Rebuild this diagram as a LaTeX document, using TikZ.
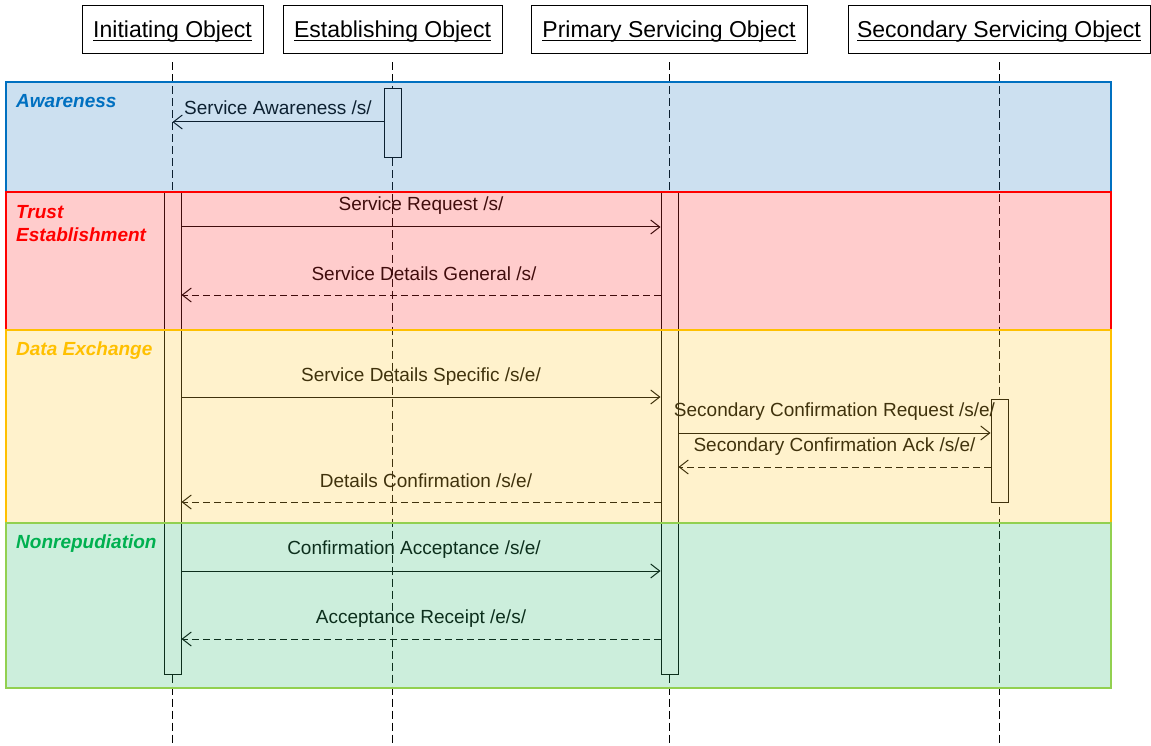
\documentclass[tikz,border=0pt]{standalone}
\usepackage{fontspec}
\setmainfont{Liberation Sans}
\usetikzlibrary{arrows.meta}
\definecolor{bluefill}{RGB}{51,131,195}
\definecolor{blueline}{RGB}{0,112,192}
\definecolor{redfill}{RGB}{255,51,51}
\definecolor{redline}{RGB}{255,0,0}
\definecolor{yelfill}{RGB}{255,203,51}
\definecolor{yelline}{RGB}{255,192,0}
\definecolor{grnfill}{RGB}{51,187,115}
\definecolor{grnline}{RGB}{146,208,80}
\definecolor{grntext}{RGB}{0,176,80}
\newcommand\hul[1]{\setbox0\hbox{#1}\rlap{\rule[-3.5pt]{\wd0}{1pt}}\box0}
\begin{document}
\begin{tikzpicture}[x=1pt,y=-1pt,
  hdr/.style={draw, line width=1pt, minimum height=48pt, inner sep=0pt, text height=15pt, text depth=0pt, font=\fontsize{23}{27}\selectfont},
  act/.style={draw, fill=white, line width=1pt, minimum width=17pt, inner sep=0pt},
  life/.style={line width=1pt, dash pattern=on 8pt off 4pt},
  msg/.style={line width=1pt, -{Straight Barb[length=9pt,width=14pt]}},
  reply/.style={msg, dash pattern=on 7pt off 4pt},
  lbl/.style={font=\fontsize{19}{23}\selectfont, inner sep=0pt},
  band/.style={fill opacity=0.25, draw opacity=1, line width=1.3pt},
  bandlbl/.style={font=\fontsize{19}{23}\selectfont\bfseries\itshape, anchor=west, inner sep=0pt, align=left},
]
\useasboundingbox (0,0) rectangle (1151,746);

% headers
\node[hdr, minimum width=181pt] (init) at (172.5,30) {\hul{Initiating Object}};
\node[hdr, minimum width=219pt] (est) at (392.5,30) {\hul{Establishing Object}};
\node[hdr, minimum width=276pt] (prim) at (669,30) {\hul{Primary Servicing Object}};
\node[hdr, minimum width=302pt] (sec) at (999,30) {\hul{Secondary Servicing Object}};

\coordinate (bot) at (0,746);
% lifelines
\draw[life] ([yshift=-8pt]init.south) -- (init.south |- bot);
\draw[life] ([yshift=-8pt]est.south) -- (est.south |- bot);
\draw[life] ([yshift=-8pt]prim.south) -- (prim.south |- bot);
\draw[life] ([yshift=-8pt]sec.south) -- (sec.south |- bot);

% activation bars
\node[act, minimum height=69pt] (aE) at (392.5,123.5) {};
\node[act, minimum height=481pt] (aI) at (172.5,433.5) {};
\node[act, minimum height=481pt] (aP) at (669.5,433.5) {};
\node[act, minimum height=103pt] (aS) at (999.5,450.5) {};

% message rows
\coordinate (y1) at (0,122);
\coordinate (y2) at (0,227);
\coordinate (y3) at (0,295);
\coordinate (y4) at (0,397);
\coordinate (y5) at (0,433);
\coordinate (y6) at (0,467);
\coordinate (y7) at (0,502);
\coordinate (y8) at (0,571);
\coordinate (y9) at (0,639);

\draw[msg] (aE.west |- y1) -- (init.south |- y1)
  node[lbl, midway, yshift=14pt] {Service Awareness /s/};
\draw[msg] (aI.east |- y2) -- (aP.west |- y2)
  node[lbl, midway, yshift=21pt] {Service Request /s/};
\draw[reply] (aP.west |- y3) -- (aI.east |- y3)
  node[lbl, midway, xshift=3pt, yshift=21pt] {Service Details General /s/};
\draw[msg] (aI.east |- y4) -- (aP.west |- y4)
  node[lbl, midway, yshift=20pt] {Service Details Specific /s/e/};
\draw[msg] (aP.east |- y5) -- (aS.west |- y5)
  node[lbl, midway, yshift=21pt] {Secondary Confirmation Request /s/e/};
\draw[reply] (aS.west |- y6) -- (aP.east |- y6)
  node[lbl, midway, yshift=20pt] {Secondary Confirmation Ack /s/e/};
\draw[reply] (aP.west |- y7) -- (aI.east |- y7)
  node[lbl, midway, xshift=5pt, yshift=21pt] {Details Confirmation /s/e/};
\draw[msg] (aI.east |- y8) -- (aP.west |- y8)
  node[lbl, midway, xshift=-7pt, yshift=21pt] {Confirmation Acceptance /s/e/};
\draw[reply] (aP.west |- y9) -- (aI.east |- y9)
  node[lbl, midway, yshift=20pt] {Acceptance Receipt /e/s/};

% bands (translucent overlay)
\path[band, fill=bluefill, draw=blueline] (6,82) rectangle (1111,192);
\path[band, fill=redfill, draw=redline] (6,192) rectangle (1111,330);
\path[band, fill=yelfill, draw=yelline] (6,330) rectangle (1111,523);
\path[band, fill=grnfill, draw=grnline] (6,523) rectangle (1111,688);

% band labels
\node[bandlbl, text=blueline] (lAw) at (16,101) {Awareness};
\node[bandlbl, text=redline] (lTr) at (16,224) {Trust\\Establishment};
\node[bandlbl, text=yelline] (lDa) at (16,351) {Data Exchange};
\node[bandlbl, text=grntext] (lNo) at (16,544) {Nonrepudiation};
\end{tikzpicture}
\end{document}
